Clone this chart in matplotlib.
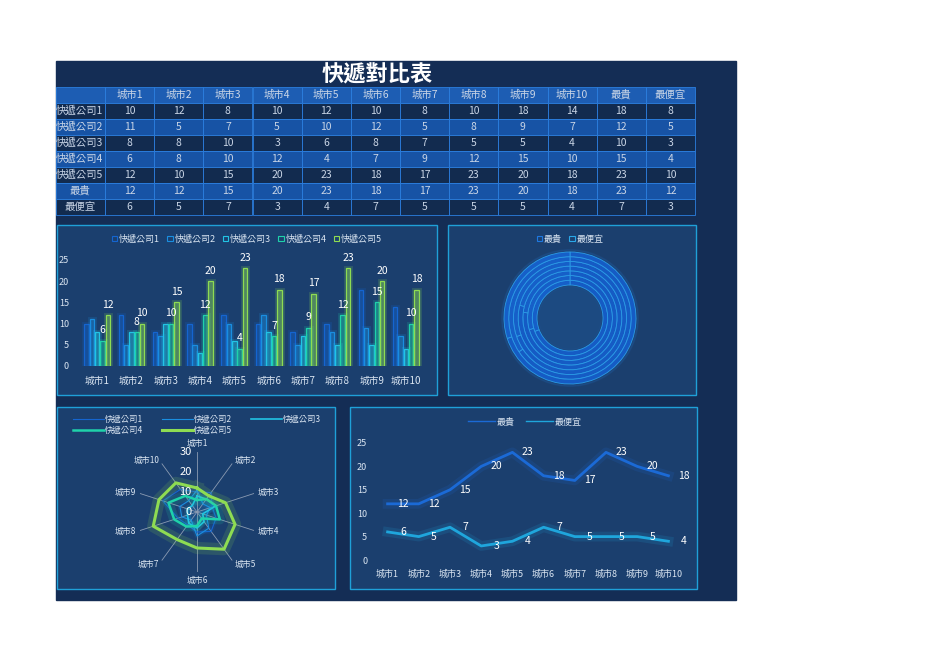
import numpy as np
import matplotlib.pyplot as plt
from matplotlib.patches import Rectangle, Patch
from matplotlib.lines import Line2D

plt.rcParams['font.family'] = ['Noto Sans CJK TC', 'DejaVu Sans']

# 数据
cities = ['城市1', '城市2', '城市3', '城市4', '城市5', '城市6', '城市7', '城市8', '城市9', '城市10']
companies = ['快遞公司1', '快遞公司2', '快遞公司3', '快遞公司4', '快遞公司5']
c1 = [10, 12, 8, 10, 12, 10, 8, 10, 18, 14]
c2 = [11, 5, 7, 5, 10, 12, 5, 8, 9, 7]
c3 = [8, 8, 10, 3, 6, 8, 7, 5, 5, 4]
c4 = [6, 8, 10, 12, 4, 7, 9, 12, 15, 10]
c5 = [12, 10, 15, 20, 23, 18, 17, 23, 20, 18]
max_row = [12, 12, 15, 20, 23, 18, 17, 23, 20, 18]
min_row = [6, 5, 7, 3, 4, 7, 5, 5, 5, 4]
row_names = companies + ['最貴', '最便宜']
max_col = [18, 12, 10, 15, 23, 23, 7]
min_col = [8, 5, 3, 4, 10, 12, 3]
header = cities + ['最貴', '最便宜']

series = [c1, c2, c3, c4, c5]
colors = ['#1565d0', '#1a8ee0', '#22c4e4', '#1fd2aa', '#8edc52']
txt = '#dbe6f2'

W, H = 936, 662
fig = plt.figure(figsize=(W / 100, H / 100), dpi=100, facecolor='white')


def box(x0, y0, x1, y1, **kw):
    return fig.add_axes([x0 / W, 1 - y1 / H, (x1 - x0) / W, (y1 - y0) / H], **kw)


bg = fig.add_axes([0, 0, 1, 1])
bg.set_xlim(0, W)
bg.set_ylim(H, 0)
bg.axis('off')
bg.add_patch(Rectangle((56, 61), 680, 539, color='#142d55', zorder=0))

# 表格
bg.text(377, 75, '快遞對比表', color='white', fontsize=16, fontweight='bold',
        ha='center', va='center')
x0, cw = 105, (695 - 105) / 12
y0, rh = 87, 16
bg.add_patch(Rectangle((56, y0), 49, rh, facecolor='#1d5db3', edgecolor='#2c7fe0', lw=0.6))
for j, h in enumerate(header):
    bg.add_patch(Rectangle((x0 + j * cw, y0), cw, rh, facecolor='#1d5db3', edgecolor='#2c7fe0', lw=0.6))
    bg.text(x0 + (j + 0.5) * cw, y0 + rh / 2, h, color='#c9d5e6', fontsize=7.5, ha='center', va='center')
table_rows = [r + [a, b] for r, a, b in zip(series + [max_row, min_row], max_col, min_col)]
for i, (name, vals) in enumerate(zip(row_names, table_rows)):
    yy = y0 + (i + 1) * rh
    fc = '#122b4f' if i % 2 == 0 else '#1753a5'
    bg.add_patch(Rectangle((56, yy), 49, rh, facecolor=fc, edgecolor='#2c7fe0', lw=0.6))
    if i < 5:
        bg.text(56, yy + rh / 2, name, color='#c9d5e6', fontsize=7.5, ha='left', va='center')
    else:
        bg.text(80, yy + rh / 2, name, color='#c9d5e6', fontsize=7.5, ha='center', va='center')
    for j, v in enumerate(vals):
        bg.add_patch(Rectangle((x0 + j * cw, yy), cw, rh, facecolor=fc, edgecolor='#2c7fe0', lw=0.6))
        bg.text(x0 + (j + 0.5) * cw, yy + rh / 2, str(v), color='#c9d5e6', fontsize=7.5,
                ha='center', va='center')

# 图框
for (a, b, c, d) in [(57, 225, 437, 395), (448, 225, 696, 395), (57, 407, 335, 589), (350, 407, 697, 589)]:
    bg.add_patch(Rectangle((a, b), c - a, d - b, facecolor='#1b3f6e', edgecolor='#1fa0d8', lw=1))

# 柱状图
ax = box(80, 260, 423, 366)
ax.patch.set_alpha(0)
x = np.arange(len(cities))
bw = 0.155
for k, (s, col) in enumerate(zip(series, colors)):
    pos = x + (k - 2) * bw
    ax.bar(pos, s, bw * 0.85, facecolor='none', edgecolor=col, lw=3.5, alpha=0.18)
    ax.bar(pos, s, bw * 0.85, facecolor=col, alpha=0.35, edgecolor='none')
    ax.bar(pos, s, bw * 0.85, facecolor='none', edgecolor=col, lw=0.9)
    if k >= 3:
        for p, v in zip(pos, s):
            ax.annotate(str(v), (p, v), xytext=(0, 4), textcoords='offset points',
                        ha='center', va='bottom', color='white', fontsize=7.5)
ax.set_xlim(-0.5, 9.5)
ax.set_ylim(0, 25)
ax.set_yticks([0, 5, 10, 15, 20, 25])
ax.set_xticks(x)
ax.set_xticklabels(cities)
ax.tick_params(length=0, colors=txt, labelsize=6.5)
ax.tick_params(axis='y', pad=8)
ax.tick_params(axis='x', pad=7, labelsize=7)
for sp in ax.spines.values():
    sp.set_visible(False)
hs = [Patch(facecolor='none', edgecolor=c, lw=0.8) for c in colors]
ax.legend(hs, companies, loc='center', bbox_to_anchor=(247, 239), bbox_transform=bg.transData,
          ncol=5, frameon=False, fontsize=6.5, labelcolor=txt, handlelength=0.6, handleheight=0.6,
          handletextpad=0.2, columnspacing=0.8)

# 圆环图
ax2 = box(495, 243, 645, 393)
ax2.patch.set_alpha(0)
inner, outer = 0.44, 0.88
rw = (outer - inner) / len(max_col)
ax2.add_patch(plt.Circle((0, 0), outer + 0.03, color='#2a8cf0', alpha=0.10))
ax2.add_patch(plt.Circle((0, 0), inner - 0.02, color='#2a8cf0', alpha=0.06))
for i, (a, b) in enumerate(zip(max_col, min_col)):
    r = inner + (i + 1) * rw
    ax2.pie([a, b], radius=r, startangle=90, counterclock=False, colors=['#155bc4', '#165fc8'],
            wedgeprops=dict(width=rw, edgecolor='#2b9be6', linewidth=0.6))
ax2.set_xlim(-1, 1)
ax2.set_ylim(-1, 1)
ax2.set_aspect('equal')
ax2.axis('off')
hd = [Patch(facecolor='none', edgecolor='#1e78e0', lw=0.8), Patch(facecolor='none', edgecolor='#2aa8e8', lw=0.8)]
ax2.legend(hd, ['最貴', '最便宜'], loc='center', bbox_to_anchor=(570, 239), bbox_transform=bg.transData,
           ncol=2, frameon=False, fontsize=6.5, labelcolor=txt, handlelength=0.6, handleheight=0.6,
           handletextpad=0.2, columnspacing=0.8)

# 雷达图
ax3 = box(137, 452, 257, 572, projection='polar')
ax3.patch.set_alpha(0)
ax3.set_theta_zero_location('N')
ax3.set_theta_direction(-1)
theta = np.linspace(0, 2 * np.pi, len(cities), endpoint=False)
tt = np.append(theta, theta[0])
lws = [0.8, 0.8, 1.2, 1.8, 2.2]
ax3.fill(tt, np.append(c3, c3[0]), color='#2a9cf0', alpha=0.18, lw=0)
for s, col, lw in zip(series, colors, lws):
    ss = np.append(s, s[0])
    ax3.plot(tt, ss, color=col, lw=lw * 4, alpha=0.15)
    ax3.plot(tt, ss, color=col, lw=lw)
ax3.set_ylim(0, 30)
ax3.set_yticks([0, 10, 20, 30])
ax3.set_yticklabels([])
ax3.yaxis.grid(False)
ax3.xaxis.grid(True, color='#8b9bb2', lw=0.6)
ax3.set_xticks(theta)
ax3.set_xticklabels([])
ax3.spines['polar'].set_visible(False)
for th, name in zip(theta, cities):
    sx, cy = np.sin(th), np.cos(th)
    ha = 'left' if sx > 0.1 else ('right' if sx < -0.1 else 'center')
    va = 'bottom' if cy > 0.9 else ('top' if cy < -0.9 else 'center')
    ax3.annotate(name, (th, 30), xytext=(3 * sx, 3 * cy), textcoords='offset points',
                 ha=ha, va=va, color=txt, fontsize=6)
for r in [0, 10, 20, 30]:
    ax3.annotate(str(r), (0, r), xytext=(-4, 0), textcoords='offset points', ha='right',
                 va='center', color='white', fontsize=8)
hr = [Line2D([], [], color=c, lw=w) for c, w in zip(colors, lws)]
order = [0, 3, 1, 4, 2]
ax3.legend([hr[i] for i in order], [companies[i] for i in order], loc='center',
           bbox_to_anchor=(197, 425), bbox_transform=bg.transData, ncol=3, frameon=False,
           fontsize=6, labelcolor=txt, handlelength=3.8, handletextpad=0.1, columnspacing=2.2,
           labelspacing=0.25)

# 折线图
ax4 = box(372, 443, 684, 560)
ax4.patch.set_alpha(0)
for s, col in [(max_row, '#1b6ad6'), (min_row, '#1fa6dc')]:
    ax4.plot(x, s, color=col, lw=7, alpha=0.15)
    ax4.plot(x, s, color=col, lw=2)
    for xi, v in zip(x, s):
        ax4.annotate(str(v), (xi, v), xytext=(11, 0), textcoords='offset points', ha='center',
                     va='center', color='white', fontsize=7.5)
ax4.set_xlim(-0.5, 9.5)
ax4.set_ylim(0, 25)
ax4.set_yticks([0, 5, 10, 15, 20, 25])
ax4.set_xticks(x)
ax4.set_xticklabels(cities)
ax4.tick_params(length=0, colors=txt, labelsize=6.5)
ax4.tick_params(axis='x', pad=7)
for sp in ax4.spines.values():
    sp.set_visible(False)
hl = [Line2D([], [], color='#1b6ad6', lw=1), Line2D([], [], color='#1fa6dc', lw=1)]
ax4.legend(hl, ['最貴', '最便宜'], loc='center', bbox_to_anchor=(525, 422), bbox_transform=bg.transData,
           ncol=2, frameon=False, fontsize=6.5, labelcolor=txt, handlelength=3, handletextpad=0.2,
           columnspacing=1.2)

fig.savefig('out.png', dpi=100)
